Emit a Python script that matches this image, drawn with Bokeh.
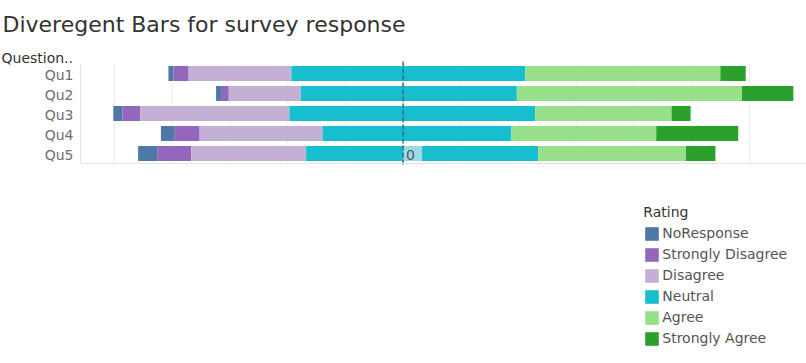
from bokeh.plotting import figure
from bokeh.models import Legend, LegendItem, Label, ColumnDataSource, Range1d
from bokeh.core.properties import value
from bokeh.embed import file_html
from bokeh.resources import INLINE

# ---- data (percent of responses) ----
questions = ["Qu1", "Qu2", "Qu3", "Qu4", "Qu5"]
ratings = ["NoResponse", "Strongly Disagree", "Disagree", "Neutral", "Agree", "Strongly Agree"]
no_response = [0.9, 1.0, 1.6, 2.4, 3.3]
strongly_disagree = [2.6, 1.2, 3.1, 4.3, 5.9]
disagree = [17.8, 12.5, 25.8, 21.3, 19.9]
neutral = [40.5, 37.4, 42.6, 32.7, 40.2]
agree = [33.8, 39.0, 23.6, 25.1, 25.6]
strongly_agree = [4.4, 8.9, 3.3, 14.2, 5.1]
colors = ["#4e79a7", "#9467bd", "#c5b0d5", "#17becf", "#98df8a", "#2ca02c"]
grid_ticks = [-50, -40, -30, -20, -10, 0, 10, 20, 30, 40, 50, 60]
highlight_question = ["Qu5"]
highlight_label = ["0"]

series = [no_response, strongly_disagree, disagree, neutral, agree, strongly_agree]

FONT = "DejaVu Sans"
W, H = 806, 363

# layout of the canvas (pixels)
PX_PER_PCT = 5.773
ZERO_X = 402.6
ROW_PITCH = 20.0
FIRST_ROW_Y = 73.0
LEFT_EDGE_PX = 80.0

n = len(questions)
row_y = [-i for i in range(n)]          # Qu1 on top
row_top, row_bottom = 0.5, -(n - 0.5)

x_start = -ZERO_X / PX_PER_PCT
x_end = (W - ZERO_X) / PX_PER_PCT
x_left = (LEFT_EDGE_PX - ZERO_X) / PX_PER_PCT

p = figure(width=W, height=H, output_backend="svg", toolbar_location=None,
           x_axis_type=None, y_axis_type=None, min_border=0,
           x_range=Range1d(x_start, x_end),
           y_range=Range1d(-(H - FIRST_ROW_Y) / ROW_PITCH, FIRST_ROW_Y / ROW_PITCH))
p.outline_line_color = None
p.grid.visible = False

# vertical grid lines within the chart area
p.segment(x0=grid_ticks, x1=grid_ticks, y0=[row_top] * len(grid_ticks),
          y1=[row_bottom] * len(grid_ticks), line_color="#ededed", line_width=1)

# stacked diverging bars: neutral centred after the no-response block
starts = [-(strongly_disagree[i] + disagree[i] + neutral[i] / 2) for i in range(n)]
renderers = []
left = list(starts)
for k, vals in enumerate(series):
    right = [left[i] + vals[i] for i in range(n)]
    src = ColumnDataSource(dict(y=row_y, left=left, right=right))
    r = p.hbar(y="y", left="left", right="right", height=0.74, source=src,
               fill_color=colors[k], line_color=None)
    renderers.append(r)
    left = right

# highlighted neutral portion for Qu5 with its label
qi = questions.index(highlight_question[0])
mid = starts[qi] + no_response[qi] + strongly_disagree[qi] + disagree[qi] + neutral[qi] / 2
hsrc = ColumnDataSource(dict(y=[row_y[qi]], left=[0], right=[mid], t=highlight_label))
p.hbar(y="y", left="left", right="right", height=0.74, source=hsrc,
       fill_color="#9edae5", line_color=None)
p.text(x="left", y="y", text="t", source=hsrc, x_offset=3, y_offset=1,
       text_font=value(FONT), text_font_size="14px", text_color="#555555",
       text_baseline="middle", text_align="left")

# zero reference line (dashed)
p.segment(x0=[0], x1=[0], y0=[row_top + 0.1], y1=[row_bottom - 0.1],
          line_color="#2b6f8e", line_width=1.5, line_dash="5 2")

# axis lines (left divider and bottom)
p.segment(x0=[x_left, x_left], x1=[x_left, x_end], y0=[row_top, row_bottom],
          y1=[row_bottom, row_bottom], line_color="#e3e3e3", line_width=1)

# row labels
p.text(x=[x_left] * n, y=row_y, text=questions, x_offset=-7, y_offset=1,
       text_font=value(FONT), text_font_size="14px", text_color="#6e6e6e",
       text_align="right", text_baseline="middle")

# title & header
p.add_layout(Label(x=2, y=H - 24, x_units="screen", y_units="screen",
                   text="Diveregent Bars for survey response", text_font=FONT,
                   text_font_size="22px", text_color="#333333",
                   text_baseline="alphabetic"))
p.add_layout(Label(x=1, y=H - 57, x_units="screen", y_units="screen",
                   text="Question..", text_font=FONT,
                   text_font_size="14px", text_color="#333333",
                   text_baseline="alphabetic"))

legend = Legend(items=[LegendItem(label=ratings[k], renderers=[renderers[k]]) for k in range(len(ratings))],
                location=(643.3, 15.5), title="Rating",
                title_text_font=FONT, title_text_font_size="14px", title_text_color="#333333",
                title_text_font_style="normal", title_standoff=4,
                label_text_font=FONT, label_text_font_size="14px", label_text_color="#555555",
                glyph_width=17, glyph_height=17, label_standoff=2, label_height=19, spacing=2,
                padding=0, margin=0, border_line_color=None, background_fill_alpha=0)
p.add_layout(legend, "center")

open("out.html", "w").write(file_html(p, INLINE))
